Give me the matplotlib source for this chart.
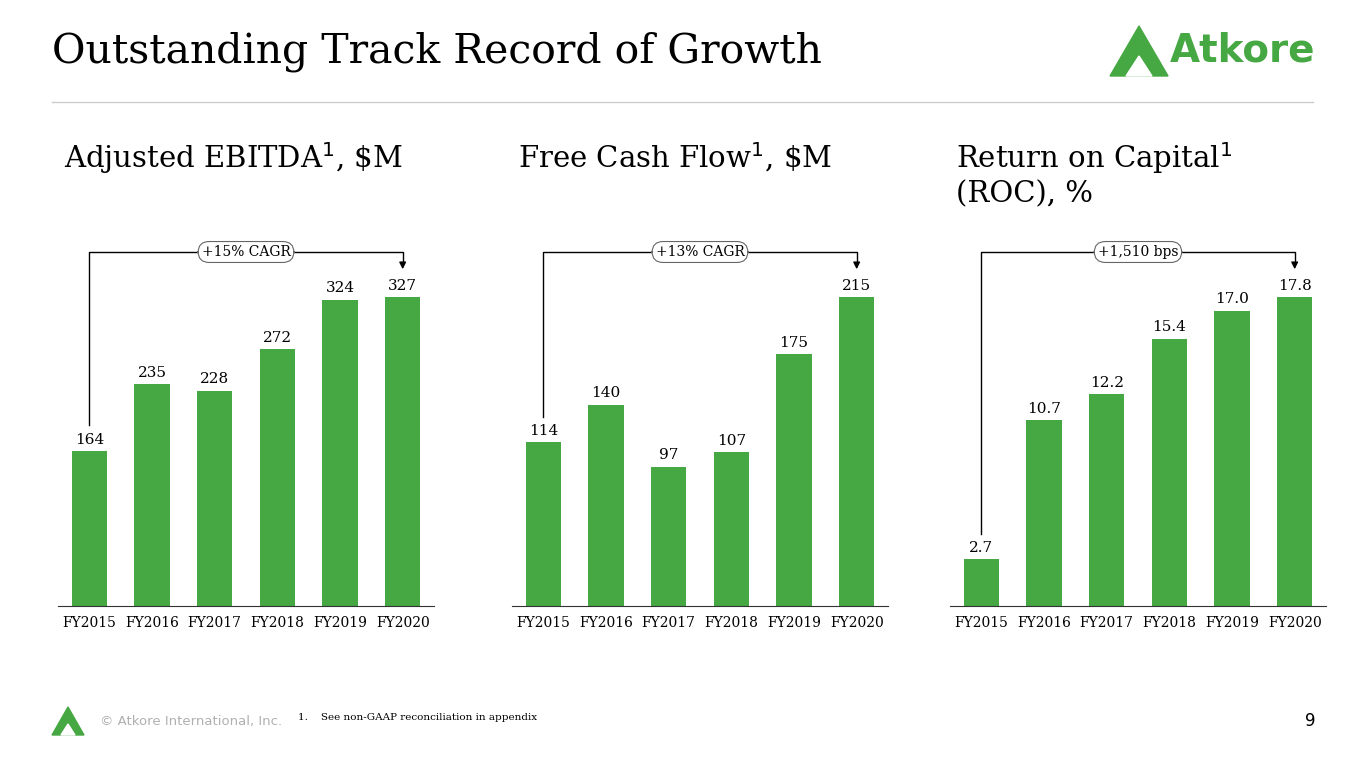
import matplotlib
matplotlib.use("Agg")
import matplotlib.pyplot as plt
from matplotlib.patches import Polygon
from matplotlib.lines import Line2D

GREEN = "#46a843"
SERIF = ["DejaVu Serif"]

years = ["FY2015", "FY2016", "FY2017", "FY2018", "FY2019", "FY2020"]
ebitda = [164, 235, 228, 272, 324, 327]
fcf = [114, 140, 97, 107, 175, 215]
roc = [2.7, 10.7, 12.2, 15.4, 17.0, 17.8]
ebitda_labels = ["164", "235", "228", "272", "324", "327"]
fcf_labels = ["114", "140", "97", "107", "175", "215"]
roc_labels = ["2.7", "10.7", "12.2", "15.4", "17.0", "17.8"]
titles = ["Adjusted EBITDA$^1$, \\$M", "Free Cash Flow$^1$, \\$M", "Return on Capital$^1$\n(ROC), %"]
growth = ["+15% CAGR", "+13% CAGR", "+1,510 bps"]

W, H = 1365, 768
fig = plt.figure(figsize=(W / 100, H / 100), dpi=100)


def fx(px):
    return px / W


def fy(py):
    return 1 - py / H


fig.text(fx(52), fy(52), "Outstanding Track Record of Growth", fontsize=29.5,
         family=SERIF, va="center", ha="left")
fig.add_artist(Line2D([fx(52), fx(1313)], [fy(102), fy(102)], color="#cccccc", lw=1))

# logo
fig.add_artist(Polygon([[fx(1110), fy(76)], [fx(1139), fy(26)], [fx(1168), fy(76)]],
                       closed=True, color=GREEN, transform=fig.transFigure))
fig.add_artist(Polygon([[fx(1126), fy(76)], [fx(1139), fy(56)], [fx(1152), fy(76)]],
                       closed=True, color="white", transform=fig.transFigure))
fig.text(fx(1170), fy(50), "Atkore", fontsize=28, color=GREEN, weight="bold",
         family=["DejaVu Sans"], va="center", ha="left")

panels = [(58, ebitda, ebitda_labels), (512, fcf, fcf_labels), (950, roc, roc_labels)]
for i, (left, vals, labs) in enumerate(panels):
    ax = fig.add_axes([fx(left), fy(606), 376 / W, 366 / H])
    top = vals[-1] * 366 / 309
    ax.bar(range(len(years)), vals, width=0.56, color=GREEN)
    ax.set_xlim(-0.5, 5.5)
    ax.set_ylim(0, top)
    for sp in ["top", "right", "left"]:
        ax.spines[sp].set_visible(False)
    ax.spines["bottom"].set_color("#333333")
    ax.set_yticks([])
    ax.set_xticks(range(len(years)), years, family=SERIF, fontsize=10)
    ax.tick_params(axis="x", length=0, pad=7)
    for j, v in enumerate(vals):
        ax.text(j, v + top * 0.012, labs[j], ha="center", va="bottom",
                family=SERIF, fontsize=11)
    # bracket
    yb = top * 354 / 366
    y0 = vals[0] + top * 0.07
    ax.plot([0, 0, 5, 5], [y0, yb, yb, top * 342 / 366], color="black", lw=1, clip_on=False)
    ax.annotate("", xy=(5, top * 334 / 366), xytext=(5, top * 345 / 366),
                arrowprops=dict(arrowstyle="-|>", color="black", lw=1, mutation_scale=10),
                annotation_clip=False)
    ax.text(2.5, yb, growth[i], ha="center", va="center", family=SERIF, fontsize=10,
            bbox=dict(boxstyle="round,pad=0.25,rounding_size=0.8", fc="white",
                      ec="#666666", lw=0.8), clip_on=False)
    fig.text(fx(left + 6), fy(140), titles[i], fontsize=21, family=SERIF,
             va="top", ha="left", linespacing=1.2)

# footer
fig.add_artist(Polygon([[fx(52), fy(735)], [fx(68), fy(707)], [fx(84), fy(735)]],
                       closed=True, color=GREEN, transform=fig.transFigure))
fig.add_artist(Polygon([[fx(61), fy(735)], [fx(68), fy(724)], [fx(75), fy(735)]],
                       closed=True, color="white", transform=fig.transFigure))
fig.text(fx(100), fy(721), "© Atkore International, Inc.", fontsize=9.5,
         color="#b0b0b0", va="center", family=["DejaVu Sans"])
fig.text(fx(298), fy(718), "1.    See non-GAAP reconciliation in appendix", fontsize=7.5,
         va="center", family=SERIF)
fig.text(fx(1316), fy(721), "9", fontsize=12, va="center", ha="right", family=["DejaVu Sans"])

fig.savefig("out.png", dpi=100)
